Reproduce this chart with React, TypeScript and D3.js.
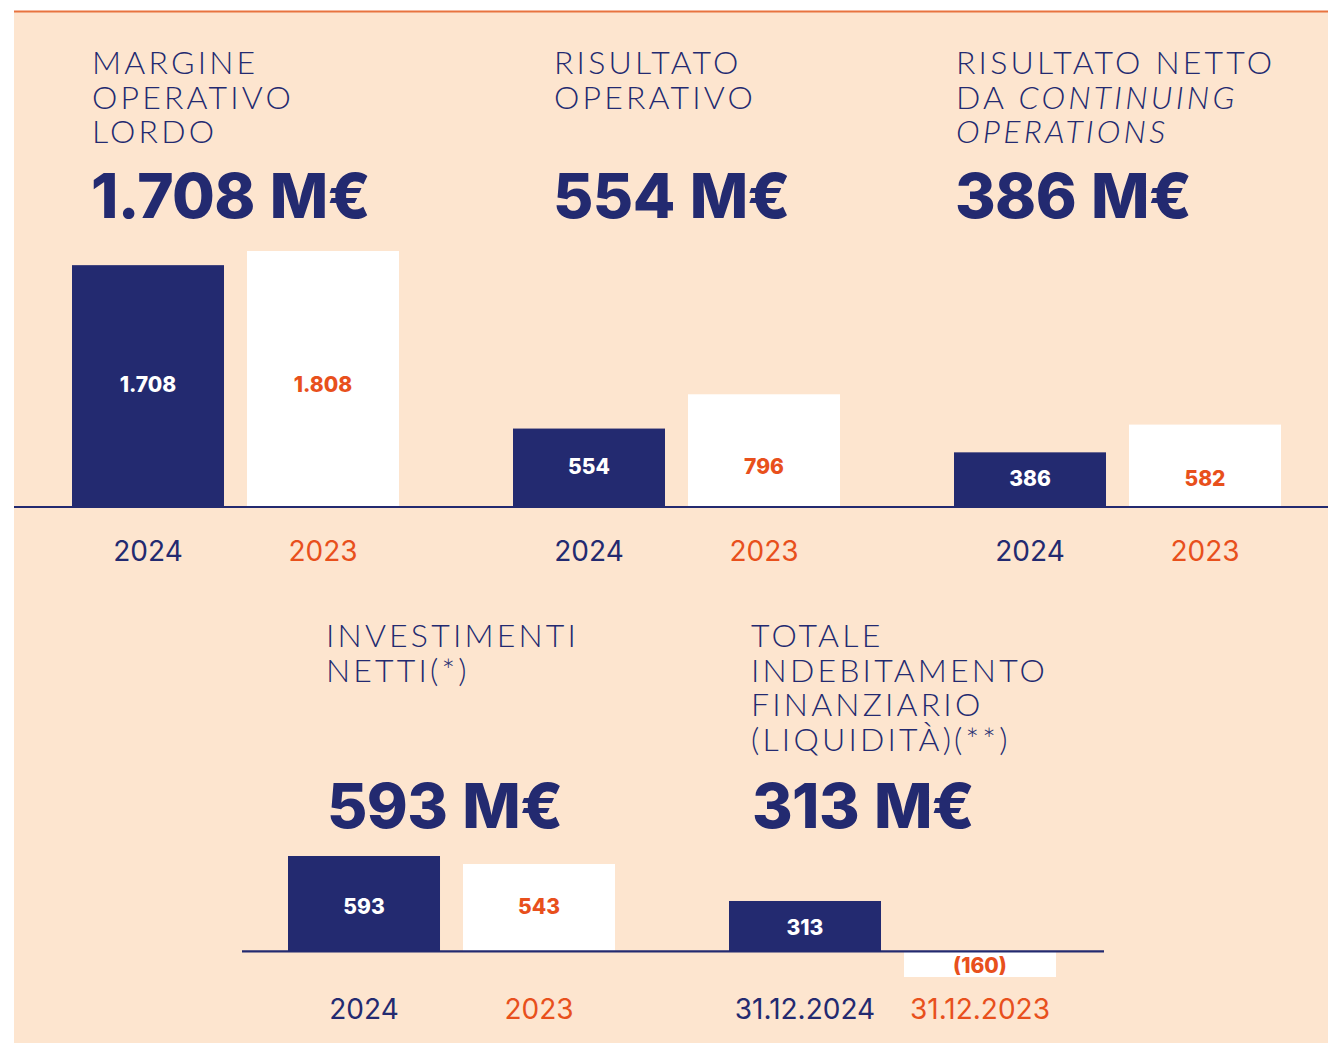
import React from 'react';
import * as d3 from 'd3';

// data
const topTitles = [
  ['MARGINE', 'OPERATIVO', 'LORDO'],
  ['RISULTATO', 'OPERATIVO'],
  ['RISULTATO NETTO', 'DA CONTINUING', 'OPERATIONS'],
];
const topCategories = ['2024', '2023'];
const topValues2024 = [1708, 554, 386];
const topValues2023 = [1808, 796, 582];

const bottomTitles = [
  ['INVESTIMENTI', 'NETTI(*)'],
  ['TOTALE', 'INDEBITAMENTO', 'FINANZIARIO', '(LIQUIDITÀ)(**)'],
];
const bottomCategories = [
  ['2024', '2023'],
  ['31.12.2024', '31.12.2023'],
];
const bottomValuesCurrent = [593, 313];
const bottomValuesPrevious = [543, -160];

const italicWords = ['CONTINUING', 'OPERATIONS'];

// style
const NAVY = '#232a70';
const ORANGE = '#e8501c';
const BG = '#fde5cf';
const W = 1328;
const H = 1043;
const TITLE_FONT = 'Lato, "Open Sans", sans-serif';
const NUM_FONT = 'Inter, "Open Sans", sans-serif';

const locale = d3.formatLocale({ decimal: ',', thousands: '.', grouping: [3], currency: ['', '€'] });
const fmtInt = locale.format(',d');
const fmt = (v: number) => (v < 0 ? `(${fmtInt(-v)})` : fmtInt(v));

const TitleBlock = ({ lines, x, y }: { lines: string[]; x: number; y: number }) => (
  <g>
    {lines.map((line, i) => (
      <text
        key={i}
        x={x}
        y={y + i * 34.5}
        fill={NAVY}
        fontFamily={TITLE_FONT}
        fontWeight={300}
        fontSize={32}
        letterSpacing={3.2}
      >
        {line.split(' ').map((w, j) => (
          <tspan key={j} fontStyle={italicWords.includes(w) ? 'italic' : 'normal'}>
            {(j > 0 ? ' ' : '') + w}
          </tspan>
        ))}
      </text>
    ))}
  </g>
);

const Headline = ({ value, x, y }: { value: number; x: number; y: number }) => (
  <text x={x} y={y} fill={NAVY} fontFamily={NUM_FONT} fontWeight={800} fontSize={62} letterSpacing={-0.6} wordSpacing={2}>
    {fmt(value)} M€
  </text>
);

const App = () => {
  // top row
  const yTop = d3.scaleLinear().domain([0, d3.max(topValues2023)!]).range([507, 251]);
  const topPanel = d3.scalePoint<number>().domain(d3.range(topTitles.length)).range([72, 954]);
  const band = d3.scaleBand<string>().domain(topCategories).range([0, 327]).paddingInner(0.1314).paddingOuter(0);
  const topTitleX = [92, 554, 956];

  // bottom row
  const allBottom = [...bottomValuesCurrent, ...bottomValuesPrevious];
  const yBot = d3.scaleLinear().domain([d3.min(allBottom)!, d3.max(allBottom)!]).range([977, 856]);
  const botPanel = d3.scalePoint<number>().domain(d3.range(bottomTitles.length)).range([288, 729]);
  const botBand = d3.scaleBand<number>().domain([0, 1]).range([0, 327]).paddingInner(0.1314).paddingOuter(0);
  const botTitleX = [326, 751];

  const mid = (y: d3.ScaleLinear<number, number>, v: number) => (y(v) + y(0)) / 2 + 8;

  return (
    <svg width={W} height={H} style={{ position: 'absolute', left: 0, top: 0, display: 'block' }}>
      <rect x={0} y={0} width={W} height={H} fill="#ffffff" />
      <rect x={14} y={12} width={W - 14} height={H - 12} fill={BG} />
      <line x1={14} x2={W} y1={11.5} y2={11.5} stroke="#e8733f" strokeWidth={2} />

      {topTitles.map((lines, i) => {
        const px = topPanel(i)!;
        const vals = [topValues2024[i], topValues2023[i]];
        const ly = mid(yTop, topValues2024[i]) - 2;
        return (
          <g key={i}>
            <TitleBlock lines={lines} x={topTitleX[i]} y={74} />
            <Headline value={topValues2024[i]} x={topTitleX[i] - 1} y={218} />
            {topCategories.map((c, j) => (
              <g key={c}>
                <rect
                  x={px + band(c)!}
                  y={yTop(vals[j])}
                  width={band.bandwidth()}
                  height={yTop(0) - yTop(vals[j])}
                  fill={j === 0 ? NAVY : '#ffffff'}
                />
                <text
                  x={px + band(c)! + band.bandwidth() / 2}
                  y={ly}
                  textAnchor="middle"
                  fill={j === 0 ? '#ffffff' : ORANGE}
                  fontFamily={NUM_FONT}
                  fontWeight={800}
                  fontSize={21}
                >
                  {fmt(vals[j])}
                </text>
                <text
                  x={px + band(c)! + band.bandwidth() / 2}
                  y={561}
                  textAnchor="middle"
                  fill={j === 0 ? NAVY : ORANGE}
                  fontFamily={NUM_FONT}
                  fontWeight={400}
                  fontSize={28}
                >
                  {c}
                </text>
              </g>
            ))}
          </g>
        );
      })}
      <line x1={14} x2={W} y1={yTop(0)} y2={yTop(0)} stroke={NAVY} strokeWidth={2.2} />

      {bottomTitles.map((lines, i) => {
        const px = botPanel(i)!;
        const vals = [bottomValuesCurrent[i], bottomValuesPrevious[i]];
        // paired labels share the height of the first bar unless the bars point in opposite directions
        const sameSign = vals[0] * vals[1] > 0;
        return (
          <g key={i}>
            <TitleBlock lines={lines} x={botTitleX[i]} y={647} />
            <Headline value={bottomValuesCurrent[i]} x={botTitleX[i] + 1} y={828} />
            {vals.map((v, j) => {
              const bx = px + botBand(j)!;
              const top = Math.min(yBot(v), yBot(0));
              const ly = sameSign ? mid(yBot, vals[0]) + 2 : mid(yBot, v) + 1;
              return (
                <g key={j}>
                  <rect
                    x={bx}
                    y={top}
                    width={botBand.bandwidth()}
                    height={Math.abs(yBot(v) - yBot(0))}
                    fill={j === 0 ? NAVY : '#ffffff'}
                  />
                  <text
                    x={bx + botBand.bandwidth() / 2}
                    y={ly}
                    textAnchor="middle"
                    fill={j === 0 ? '#ffffff' : ORANGE}
                    fontFamily={NUM_FONT}
                    fontWeight={800}
                    fontSize={21}
                  >
                    {fmt(v)}
                  </text>
                  <text
                    x={bx + botBand.bandwidth() / 2}
                    y={1019}
                    textAnchor="middle"
                    fill={j === 0 ? NAVY : ORANGE}
                    fontFamily={NUM_FONT}
                    fontWeight={400}
                    fontSize={28}
                  >
                    {bottomCategories[i][j]}
                  </text>
                </g>
              );
            })}
          </g>
        );
      })}
      <line x1={242} x2={1104} y1={yBot(0)} y2={yBot(0)} stroke={NAVY} strokeWidth={2.2} />
    </svg>
  );
};

export default App;
